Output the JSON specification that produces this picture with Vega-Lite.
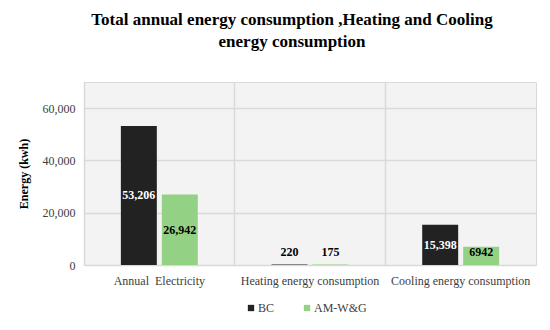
{
  "$schema": "https://vega.github.io/schema/vega-lite/v6.json",
  "autosize": {"type": "none"},
  "width": 452,
  "height": 183,
  "padding": {"left": 84, "top": 82, "right": 14, "bottom": 65},
  "background": "white",
  "title": {
    "text": ["Total annual energy consumption ,Heating and Cooling", "energy consumption"],
    "font": "Liberation Serif",
    "fontSize": 17,
    "fontWeight": "bold",
    "color": "#000000",
    "anchor": "middle",
    "offset": 31,
    "dx": -18,
    "lineHeight": 22
  },
  "data": {
    "values": [
      {"category": "Annual\u00a0 Electricity", "series": "BC", "value": 53206, "label": "53,206"},
      {"category": "Annual\u00a0 Electricity", "series": "AM-W&G", "value": 26942, "label": "26,942"},
      {"category": "Heating energy consumption", "series": "BC", "value": 220, "label": "220"},
      {"category": "Heating energy consumption", "series": "AM-W&G", "value": 175, "label": "175"},
      {"category": "Cooling energy consumption", "series": "BC", "value": 15398, "label": "15,398"},
      {"category": "Cooling energy consumption", "series": "AM-W&G", "value": 6942, "label": "6942"}
    ]
  },
  "config": {
    "view": {"fill": "#f3f3f3", "stroke": "#d9d9d9", "strokeWidth": 1},
    "font": "Liberation Serif",
    "legend": {"labelFont": "Liberation Serif", "labelFontSize": 12}
  },
  "encoding": {
    "x": {
      "field": "category",
      "type": "nominal",
      "sort": null,
      "scale": {"paddingInner": 0, "paddingOuter": 0},
      "axis": {
        "title": null,
        "labelAngle": 0,
        "labelFont": "Liberation Serif",
        "labelFontSize": 12,
        "labelColor": "#404040",
        "labelPadding": 10,
        "ticks": false,
        "domain": false,
        "grid": true,
        "gridColor": "#d9d9d9",
        "gridWidth": 1.5,
        "bandPosition": 0
      }
    },
    "xOffset": {
      "field": "series",
      "type": "nominal",
      "sort": ["BC", "AM-W&G"],
      "scale": {"paddingInner": 0.122, "paddingOuter": 0.9}
    }
  },
  "layer": [
    {
      "mark": {"type": "bar"},
      "encoding": {
        "y": {
          "field": "value",
          "type": "quantitative",
          "scale": {"domain": [0, 70000]},
          "axis": {
            "values": [0, 20000, 40000, 60000],
            "format": ",.0f",
            "title": "Energy (kwh)",
            "titleFont": "Liberation Serif",
            "titleFontSize": 12,
            "titleFontWeight": "bold",
            "titleColor": "#000000",
            "titlePadding": 12,
            "labelFont": "Liberation Serif",
            "labelFontSize": 12,
            "labelColor": "#404040",
            "labelPadding": 9,
            "ticks": false,
            "domain": false,
            "gridColor": "#d9d9d9",
            "gridWidth": 1.5
          }
        },
        "color": {
          "field": "series",
          "type": "nominal",
          "sort": ["BC", "AM-W&G"],
          "scale": {"domain": ["BC", "AM-W&G"], "range": ["#222222", "#93d284"]},
          "legend": {
            "orient": "none",
            "direction": "horizontal",
            "legendX": 161,
            "legendY": 220,
            "title": null,
            "symbolType": "square",
            "symbolSize": 40,
            "labelFont": "Liberation Serif",
            "labelFontSize": 12,
            "labelColor": "#404040",
            "columnPadding": 26,
            "labelOffset": 1
          }
        }
      }
    },
    {
      "transform": [{"calculate": "max(datum.value / 2, 5000)", "as": "labelPos"}],
      "mark": {"type": "text", "fontWeight": "bold", "fontSize": 12, "font": "Liberation Serif", "baseline": "middle"},
      "encoding": {
        "y": {"field": "labelPos", "type": "quantitative"},
        "text": {"field": "label"},
        "color": {
          "condition": {"test": "datum.series == 'BC' && datum.value > 1000", "value": "#ffffff"},
          "value": "#000000"
        }
      }
    }
  ]
}
